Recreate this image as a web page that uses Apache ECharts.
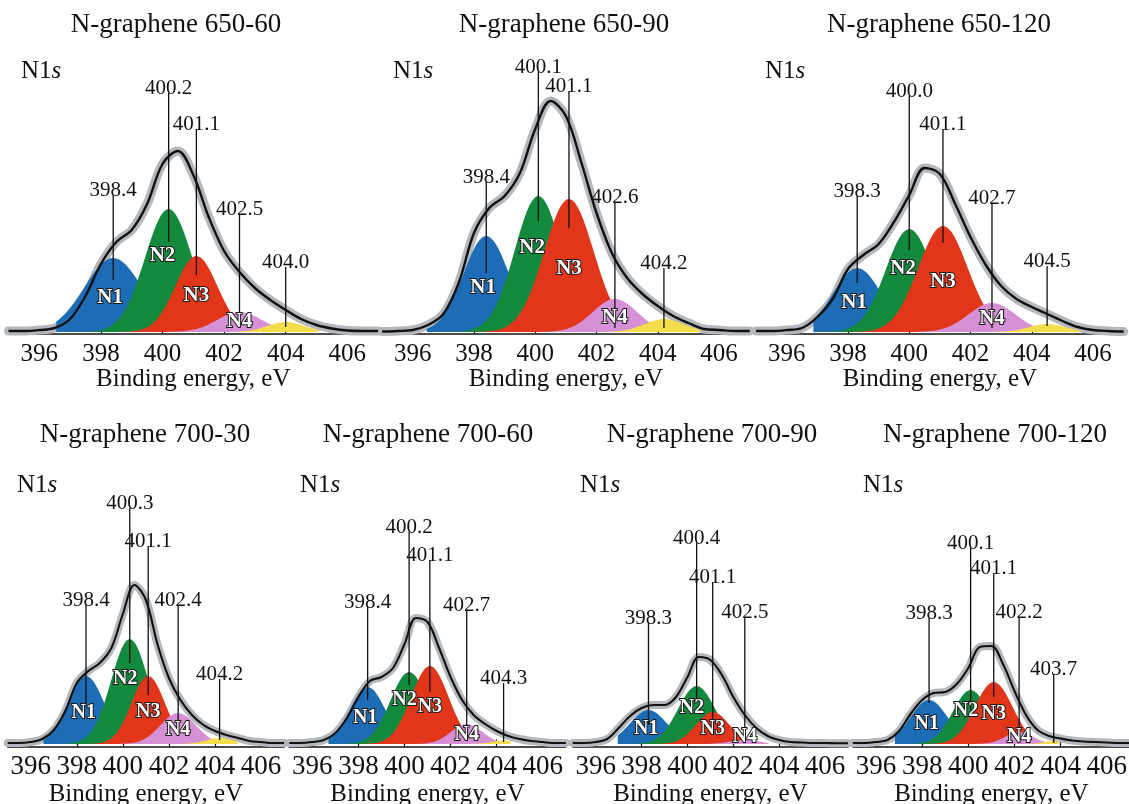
<!DOCTYPE html>
<html>
<head>
<meta charset="utf-8">
<script src="https://cdn.jsdelivr.net/npm/echarts@6/dist/echarts.min.js"></script>
<style>html,body{margin:0;padding:0;background:#fff}#c{width:1129px;height:804px}</style>
</head>
<body>
<div id="c"></div>
<script>
// ---------------- DATA ----------------
const panelNames = ['N-graphene 650-60', 'N-graphene 650-90', 'N-graphene 650-120',
  'N-graphene 700-30', 'N-graphene 700-60', 'N-graphene 700-90', 'N-graphene 700-120'];
const tickValues = [396, 398, 400, 402, 404, 406];
const componentNames = ['N1', 'N2', 'N3', 'N4', 'N5'];
const energyGrid = [395, 395.5, 396, 396.5, 397, 397.5, 398, 398.5, 399, 399.5, 400, 400.5,
  401, 401.5, 402, 402.5, 403, 403.5, 404, 404.5, 405, 405.5, 406, 406.5, 407];

// measured envelope (fit sum) intensity, a.u., on energyGrid
const envelope650_60 = [1, 1, 2, 4, 13, 36, 68, 90, 102, 128, 168, 181, 157, 115, 81, 60, 44, 32, 22, 13, 7, 3.5, 1.5, 1, 1];
const envelope650_90 = [0.5, 1, 2, 7, 18, 49, 99, 124, 136, 159, 203, 231, 216, 170, 119, 79, 54, 38, 26, 16, 9, 3, 2, 1, 1];
const envelope650_120 = [1, 1, 2, 4, 15, 33, 63, 77, 88, 110, 137, 164, 158, 128, 95, 67, 46, 33, 25, 18, 11, 5, 2, 1, 0.5];
const envelope700_30 = [1, 1, 2, 5, 14, 33, 61, 73, 81, 96, 130, 159, 144, 100, 66, 44, 29, 19, 13, 9, 6, 3, 2, 1, 1];
const envelope700_60 = [1, 1, 2, 4, 11, 26, 47, 63, 67, 76, 100, 126, 122, 96, 67, 44, 29, 20, 13, 8, 5, 3, 2, 1, 1];
const envelope700_90 = [1, 1, 2, 5, 16, 28, 36, 39, 39, 47, 67, 87, 84, 69, 47, 29, 16, 8, 4, 2, 1.5, 1, 1, 0.7, 0.7];
const envelope700_120 = [1, 1, 2, 4, 13, 30, 44, 51, 52, 60, 76, 97, 98, 80, 53, 29, 14, 8, 5.5, 3.5, 2.5, 2, 1.5, 1, 1];
const envelopes = [envelope650_60, envelope650_90, envelope650_120, envelope700_30, envelope700_60, envelope700_90, envelope700_120];

// fitted components: binding energy (eV), peak height (a.u.), FWHM (eV)
const peakCenters = [
  [398.4, 400.2, 401.1, 402.5, 404.0],
  [398.4, 400.1, 401.1, 402.6, 404.2],
  [398.3, 400.0, 401.1, 402.7, 404.5],
  [398.4, 400.3, 401.1, 402.4, 404.2],
  [398.4, 400.2, 401.1, 402.7, 404.3],
  [398.3, 400.4, 401.1, 402.5],
  [398.3, 400.1, 401.1, 402.2, 403.7]
];
const peakHeights = [
  [74, 123, 76, 20, 10],
  [96, 136, 133, 33, 13],
  [64, 103, 106, 29, 8],
  [68, 105, 68, 31, 6],
  [57, 72, 78, 20, 3.5],
  [34, 58, 32, 4],
  [44, 54, 62, 12, 3]
];
const peakFwhm = [
  [2.2, 1.8, 1.6, 1.7, 1.4],
  [1.75, 1.8, 1.9, 1.7, 1.5],
  [1.85, 1.8, 1.9, 1.8, 1.4],
  [1.85, 1.9, 1.7, 1.8, 1.4],
  [1.8, 1.9, 1.9, 1.6, 1.2],
  [1.9, 1.9, 1.7, 1.5],
  [1.9, 1.8, 1.9, 1.4, 1.0]
];
// fitting window (eV)
const fitStart = [396.55, 396.46, 396.87, 396.55, 396.7, 396.96, 396.82];
const fitEnd = [405.1, 405.4, 405.6, 405.0, 404.6, 403.6, 403.9];

// callout leader extents (a.u.)
const calloutTop = [
  [137, 239, 203, 118, 65],
  [150, 260, 241, 130, 64],
  [136, 236, 203, 129, 66],
  [139, 236, 198, 139, 65],
  [137, 212, 184, 134, 61],
  [121, 201, 162, 127],
  [126, 196, 171, 127, 70]
];
const calloutBottom = [
  [52, 90, 57, 18, 5],
  [59, 111, 104, 4, 4],
  [49, 82, 89, 4, 6],
  [41, 81, 49, 10, 4],
  [44, 59, 52, 12, 2],
  [19, 44, 19, 11],
  [41, 34, 47, 11, 1]
];

// ---------------- LAYOUT / STYLE ----------------
const FONT = "'Liberation Serif', 'Times New Roman', serif";
const compColors = ['#1d6db6', '#12893d', '#e2361b', '#d690d6', '#f4dd4c'];
// where each component tag sits inside its peak (fraction of height, shift in eV)
const tagFrac = [0.46, 0.62, 0.48, 0.45];
const tagShift = [-0.1, -0.2, 0, 0];
const panels = [
  {left: 8.5, width: 369.6, row: 0, title: [176, 25], tag: [21, 71]},
  {left: 382.1, width: 367.6, row: 0, title: [564, 25], tag: [393, 71]},
  {left: 756.1, width: 367.6, row: 0, title: [939, 25], tag: [765, 71]},
  {left: 7.7, width: 276.4, row: 1, title: [145, 435], tag: [17, 485]},
  {left: 289.3, width: 276.5, row: 1, title: [428, 435], tag: [300, 485]},
  {left: 572.8, width: 275.2, row: 1, title: [712, 435], tag: [580, 485]},
  {left: 852.9, width: 277, row: 1, title: [995, 435], tag: [863, 485]}
];
const rows = [
  {top: 33.5, height: 300, yMin: -1.5, tickLen: 5, labelSize: 25, labelMargin: 8, nameGap: 33, band: 9, env: 2.4, tagMin: 10, tagSize: 21},
  {top: 446.5, height: 300, yMin: -2.5, tickLen: 7, labelSize: 27, labelMargin: 7, nameGap: 35, band: 8, env: 2.1, tagMin: 7, tagSize: 20}
];

function gaussianPoints(c, h, w, x0, x1) {
  const k = 4 * Math.LN2 / (w * w);
  const pts = [[x0, 0]];
  const n = Math.round((x1 - x0) / 0.04);
  for (let i = 0; i <= n; i++) {
    const x = x0 + (x1 - x0) * i / n;
    pts.push([x, h * Math.exp(-k * (x - c) * (x - c))]);
  }
  pts.push([x1, 0]);
  return pts;
}

const grid = [], xAxis = [], yAxis = [], series = [], graphic = [];
panels.forEach((p, i) => {
  const r = rows[p.row];
  grid.push({left: p.left, width: p.width, top: r.top, height: r.height, containLabel: false, outerBoundsMode: 'none'});
  xAxis.push({
    type: 'value', gridIndex: i, min: 395, max: 407,
    name: 'Binding energy, eV', nameLocation: 'middle', nameGap: r.nameGap, nameMoveOverlap: false,
    nameTextStyle: {fontFamily: FONT, fontSize: 25, color: '#111'},
    axisLine: {show: true, onZero: false, lineStyle: {color: '#111', width: 1.5}},
    axisTick: {show: true, inside: true, length: r.tickLen, customValues: tickValues, lineStyle: {color: '#111', width: 1.2}},
    axisLabel: {show: true, customValues: tickValues, fontFamily: FONT, fontSize: r.labelSize, color: '#111', margin: r.labelMargin, hideOverlap: false},
    splitLine: {show: false}
  });
  yAxis.push({type: 'value', gridIndex: i, min: r.yMin, max: r.yMin + 300, show: false, splitLine: {show: false}});

  const envData = energyGrid.map((e, j) => [e, envelopes[i][j]]);
  // grey measured-data band
  series.push({type: 'line', xAxisIndex: i, yAxisIndex: i, data: envData, smooth: 0.35, symbol: 'none', silent: true,
    lineStyle: {color: '#b4b8bc', width: r.band, cap: 'round', join: 'round'}, z: 1});
  // components, later ones painted over earlier ones
  peakCenters[i].forEach((c, k) => {
    series.push({type: 'line', xAxisIndex: i, yAxisIndex: i, symbol: 'none', silent: true, smooth: false,
      data: gaussianPoints(c, peakHeights[i][k], peakFwhm[i][k], fitStart[i], fitEnd[i]),
      lineStyle: {width: 0, opacity: 0}, areaStyle: {color: compColors[k], opacity: 1}, z: 2});
  });
  // envelope
  series.push({type: 'line', xAxisIndex: i, yAxisIndex: i, data: envData, smooth: 0.35, symbol: 'none', silent: true,
    lineStyle: {color: '#111', width: r.env}, z: 3});
  // leaders
  peakCenters[i].forEach((c, k) => {
    series.push({type: 'line', xAxisIndex: i, yAxisIndex: i, symbol: 'none', silent: true,
      data: [[c, calloutTop[i][k]], [c, calloutBottom[i][k]]],
      lineStyle: {color: '#111', width: 1.3}, z: 4});
  });
  // value labels
  series.push({type: 'scatter', xAxisIndex: i, yAxisIndex: i, symbolSize: 1, silent: true,
    itemStyle: {color: 'rgba(0,0,0,0)', opacity: 1},
    data: peakCenters[i].map((c, k) => ({name: c.toFixed(1), value: [c, calloutTop[i][k]]})),
    label: {show: true, position: 'top', distance: 0, offset: [0, 6], formatter: '{b}', fontFamily: FONT, fontSize: 21, color: '#111'}, z: 5});
  // component tags N1..N4
  const tagData = [];
  peakCenters[i].forEach((c, k) => {
    if (k > 3) return;
    tagData.push({name: componentNames[k], value: [c + tagShift[k], Math.max(tagFrac[k] * peakHeights[i][k], r.tagMin)]});
  });
  series.push({type: 'scatter', xAxisIndex: i, yAxisIndex: i, symbolSize: 1, silent: true,
    itemStyle: {color: 'rgba(0,0,0,0)', opacity: 1},
    data: tagData,
    label: {show: true, position: 'inside', formatter: '{b}', fontFamily: FONT, fontSize: r.tagSize, fontWeight: 'bold',
      color: '#fff', textBorderColor: '#1a1a1a', textBorderWidth: 2}, z: 6});

  graphic.push({type: 'text', x: p.title[0], y: p.title[1], silent: true,
    style: {text: panelNames[i], fontFamily: FONT, fontSize: 27, fill: '#111', align: 'center', verticalAlign: 'middle'}});
  graphic.push({type: 'text', x: p.tag[0], y: p.tag[1], silent: true,
    style: {text: '{n|N1}{s|s}', fill: '#111', align: 'left', verticalAlign: 'middle',
      rich: {n: {fontFamily: FONT, fontSize: 25, fill: '#111'}, s: {fontFamily: FONT, fontSize: 25, fontStyle: 'italic', fill: '#111'}}}});
});

const chart = echarts.init(document.getElementById('c'), null, {renderer: 'canvas'});
chart.setOption({animation: false, backgroundColor: '#fff', grid, xAxis, yAxis, series, graphic});
</script>
</body>
</html>
